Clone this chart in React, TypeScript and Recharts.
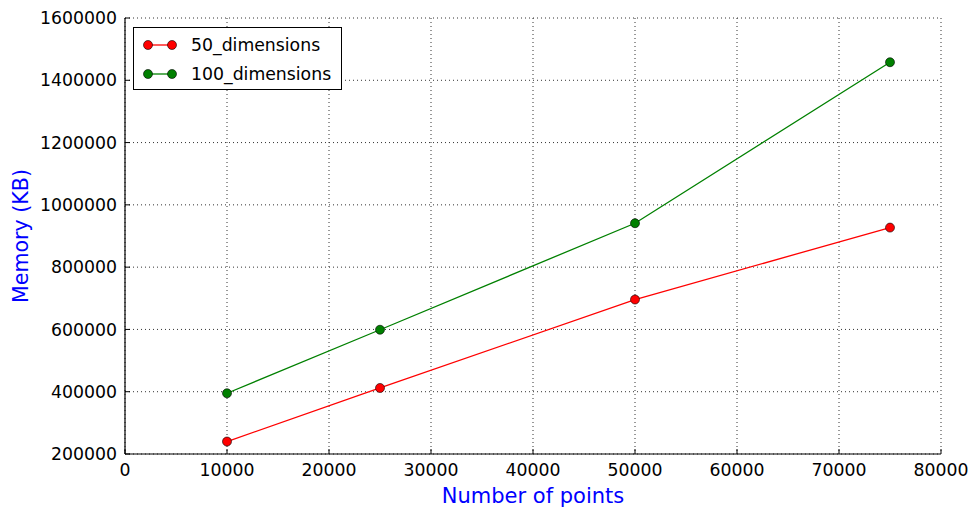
import React from 'react'
import { LineChart, Line, XAxis, YAxis, CartesianGrid, Legend, Label } from 'recharts'

const points = [10000, 25000, 50000, 75000]
const mem50 = [240000, 412000, 696000, 927000]
const mem100 = [395000, 599000, 941000, 1458000]
const seriesNames = ['50_dimensions', '100_dimensions']
const xTicks = [0, 10000, 20000, 30000, 40000, 50000, 60000, 70000, 80000]
const yTicks = [200000, 400000, 600000, 800000, 1000000, 1200000, 1400000, 1600000]

const data = points.map((p, i) => ({ points: p, d50: mem50[i], d100: mem100[i] }))

const FONT = '"DejaVu Sans", sans-serif'
const tickStyle = { fill: '#000', fontSize: 17.3, fontFamily: FONT }
const axisLine = { stroke: '#000', strokeWidth: 1.2 }

function LegendBox({ payload }: any) {
  // keep the series in plotting order
  const items = [...(payload || [])].sort((a: any, b: any) => seriesNames.indexOf(a.value) - seriesNames.indexOf(b.value))
  return (
    <div style={{ width: 209, height: 63, boxSizing: 'border-box', border: '1.2px solid #000', background: '#fff', position: 'relative', fontFamily: FONT, fontSize: 17.3 }}>
      {items.map((item: any, i: number) => (
        <div key={item.value} style={{ position: 'absolute', left: 0, top: 4 + i * 29, height: 26, display: 'flex', alignItems: 'center' }}>
          <svg width={56} height={26}>
            <line x1={14} x2={38} y1={13} y2={13} stroke={item.color} strokeWidth={1.3} />
            <circle cx={14} cy={13} r={4.5} fill={item.color} stroke="#000" strokeWidth={0.6} />
            <circle cx={38} cy={13} r={4.5} fill={item.color} stroke="#000" strokeWidth={0.6} />
          </svg>
          <span style={{ marginLeft: 1, color: '#000' }}>{item.value}</span>
        </div>
      ))}
    </div>
  )
}

export default function App() {
  return (
    <div style={{ position: 'absolute', left: 0, top: 0, background: '#fff' }}>
      <LineChart width={972} height={511} data={data} margin={{ top: 18, right: 31, bottom: 0, left: 0 }}>
        <CartesianGrid stroke="#333" strokeWidth={1} strokeDasharray="1 3" />
        <XAxis dataKey="points" type="number" domain={[0, 80000]} ticks={xTicks} height={57}
          axisLine={axisLine} tickLine={{ stroke: '#000' }} tickSize={-5} tickMargin={15} tick={tickStyle} interval={0}>
          <Label content={({ viewBox }: any) => (
            <text x={viewBox.x + viewBox.width / 2} y={503} textAnchor="middle" fill="#0000ff" fontSize={21} fontFamily={FONT}>Number of points</text>
          )} />
        </XAxis>
        <XAxis xAxisId="top" orientation="top" type="number" domain={[0, 80000]} ticks={xTicks} height={0}
          axisLine={axisLine} tickLine={{ stroke: '#000' }} tickSize={-5} tick={false} />
        <YAxis type="number" domain={[200000, 1600000]} ticks={yTicks} width={125} interval={0}
          axisLine={axisLine} tickLine={{ stroke: '#000' }} tickSize={-5} tickMargin={13} tick={tickStyle}>
          <Label content={() => (
            <text x={28} y={236} transform="rotate(-90, 28, 236)" textAnchor="middle" fill="#0000ff" fontSize={20.6} fontFamily={FONT}>Memory (KB)</text>
          )} />
        </YAxis>
        <YAxis yAxisId="right" orientation="right" type="number" domain={[200000, 1600000]} ticks={yTicks} width={0}
          axisLine={axisLine} tickLine={{ stroke: '#000' }} tickSize={-5} tick={false} />
        <Legend layout="vertical" align="center" verticalAlign="middle" content={<LegendBox />}
          wrapperStyle={{ left: 133, top: 27, width: 209, height: 63 }} />
        <Line name={seriesNames[0]} dataKey="d50" stroke="#ff0000" strokeWidth={1.3} isAnimationActive={false}
          dot={{ r: 4.5, fill: '#ff0000', stroke: '#000', strokeWidth: 0.6 }} activeDot={false} />
        <Line name={seriesNames[1]} dataKey="d100" stroke="#008000" strokeWidth={1.3} isAnimationActive={false}
          dot={{ r: 4.5, fill: '#008000', stroke: '#000', strokeWidth: 0.6 }} activeDot={false} />
      </LineChart>
    </div>
  )
}
